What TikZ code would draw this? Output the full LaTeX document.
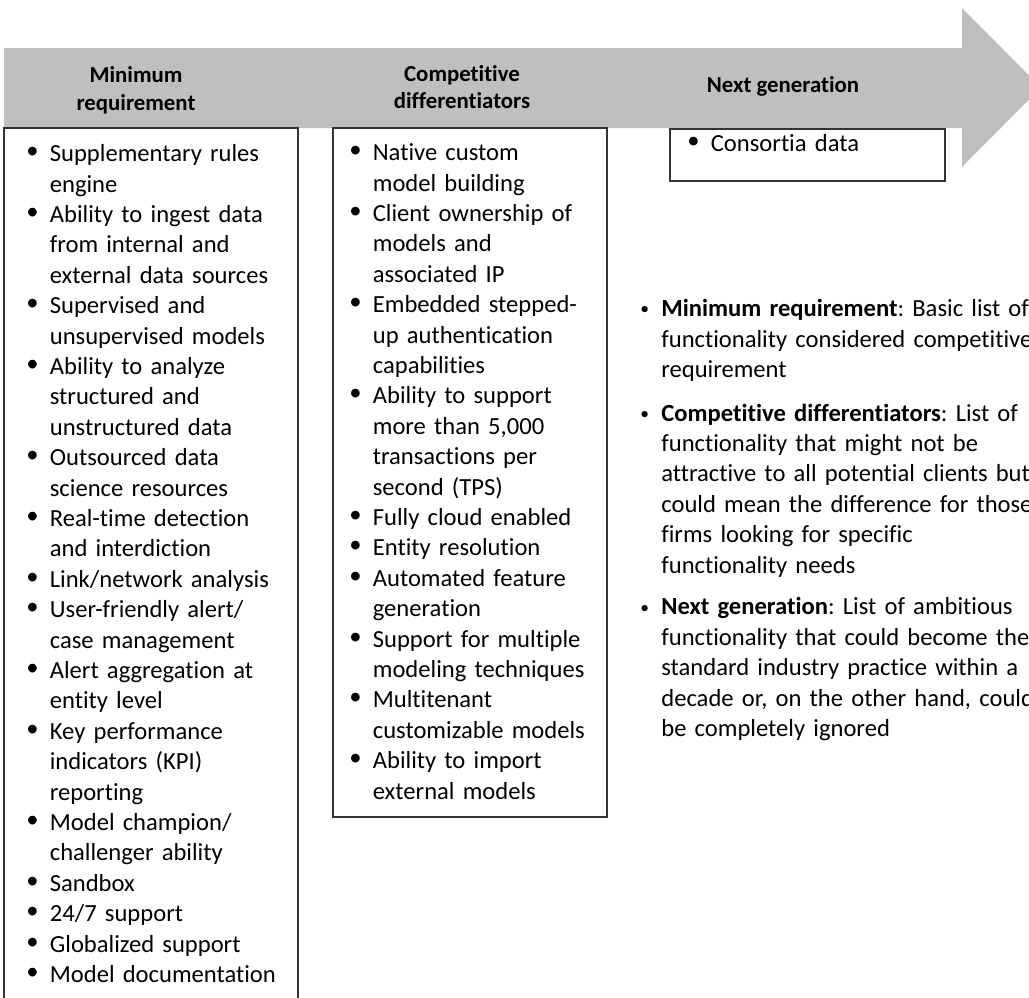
\documentclass[tikz,border=0pt]{standalone}
\usepackage{fontspec}
\setmainfont{Carlito}[Ligatures=NoCommon]
\usetikzlibrary{positioning}

\definecolor{arrowgrey}{HTML}{BFBFBF}
\newcommand{\listsize}{\fontsize{14pt}{17.3pt}\selectfont\frenchspacing}
\newcommand{\headsize}{\fontsize{13pt}{15.8pt}\selectfont\bfseries}
\newlength{\bulletgap}
\setlength{\bulletgap}{0.47cm}
\newcommand{\bitem}[1]{\par\noindent\hangindent=\bulletgap\hangafter=1%
  \makebox[\bulletgap][l]{\raisebox{0.25ex}{\textbullet}}#1\par}
\newcommand{\nitem}[1]{\par\noindent\hangindent=0.42cm\hangafter=1%
  \makebox[0.42cm][l]{\raisebox{0.15ex}{\fontsize{10pt}{12pt}\selectfont\textbullet}}#1\par}
\tikzset{
  boxframe/.style={draw=black!80, line width=0.8pt},
  itemlist/.style={anchor=north west, inner sep=0pt, text width=10cm, align=left, font=\listsize},
  heading/.style={font=\headsize, align=center},
}

\begin{document}
\begin{tikzpicture}[x=0.02cm, y=-0.02cm]
    \useasboundingbox (0,0) rectangle (1029,998);

    % the big arrow
    \fill[arrowgrey] (4,48) -- (962,48) -- (962,8) -- (1041,87.5) -- (962,167) -- (962,128) -- (4,128) -- cycle;

    \node[heading] (minhead) at (136,90) {Minimum\\requirement};
    \node[heading] (comphead) at (462,87) {Competitive\\differentiators};
    \node[heading] (nexthead) at (783,86) {Next generation};

    % columns
    \draw[boxframe] (4,128) rectangle (298,1010);
    \draw[boxframe] (333,128) rectangle (607,817);
    \draw[boxframe] (670,129) rectangle (945,181);

    \node[itemlist] (minlist) at (26,131) {%
        \bitem{Supplementary rules\newline engine}
        \bitem{Ability to ingest data\newline from internal and\newline external data sources}
        \bitem{Supervised and\newline unsupervised models}
        \bitem{Ability to analyze\newline structured and\newline unstructured data}
        \bitem{Outsourced data\newline science resources}
        \bitem{Real-time detection\newline and interdiction}
        \bitem{Link/network analysis}
        \bitem{User-friendly alert/\newline case management}
        \bitem{Alert aggregation at\newline entity level}
        \bitem{Key performance\newline indicators (KPI)\newline reporting}
        \bitem{Model champion/\newline challenger ability}
        \bitem{Sandbox}
        \bitem{24/7 support}
        \bitem{Globalized support}
        \bitem{Model documentation}};

    \node[itemlist] (complist) at (349,130) {%
        \bitem{Native custom\newline model building}
        \bitem{Client ownership of\newline models and\newline associated IP}
        \bitem{Embedded stepped-\newline up authentication\newline capabilities}
        \bitem{Ability to support\newline more than 5,000\newline transactions per\newline second (TPS)}
        \bitem{Fully cloud enabled}
        \bitem{Entity resolution}
        \bitem{Automated feature\newline generation}
        \bitem{Support for multiple\newline modeling techniques}
        \bitem{Multitenant\newline customizable models}
        \bitem{Ability to import\newline external models}};

    \node[itemlist] (nextlist) at (687,121) {\bitem{Consortia data}};

    % what the three columns mean
    \node[itemlist] (notes) at (640,286) {%
        \nitem{\textbf{Minimum requirement}: Basic list of\newline functionality considered competitive\newline requirement}
        \vspace{7.5pt}
        \nitem{\textbf{Competitive differentiators}: List of\newline functionality that might not be\newline attractive to all potential clients but\newline could mean the difference for those\newline firms looking for specific\newline functionality needs}
        \vspace{6.5pt}
        \nitem{\textbf{Next generation}: List of ambitious\newline functionality that could become the\newline standard industry practice within a\newline decade or, on the other hand, could\newline be completely ignored}};
\end{tikzpicture}
\end{document}
